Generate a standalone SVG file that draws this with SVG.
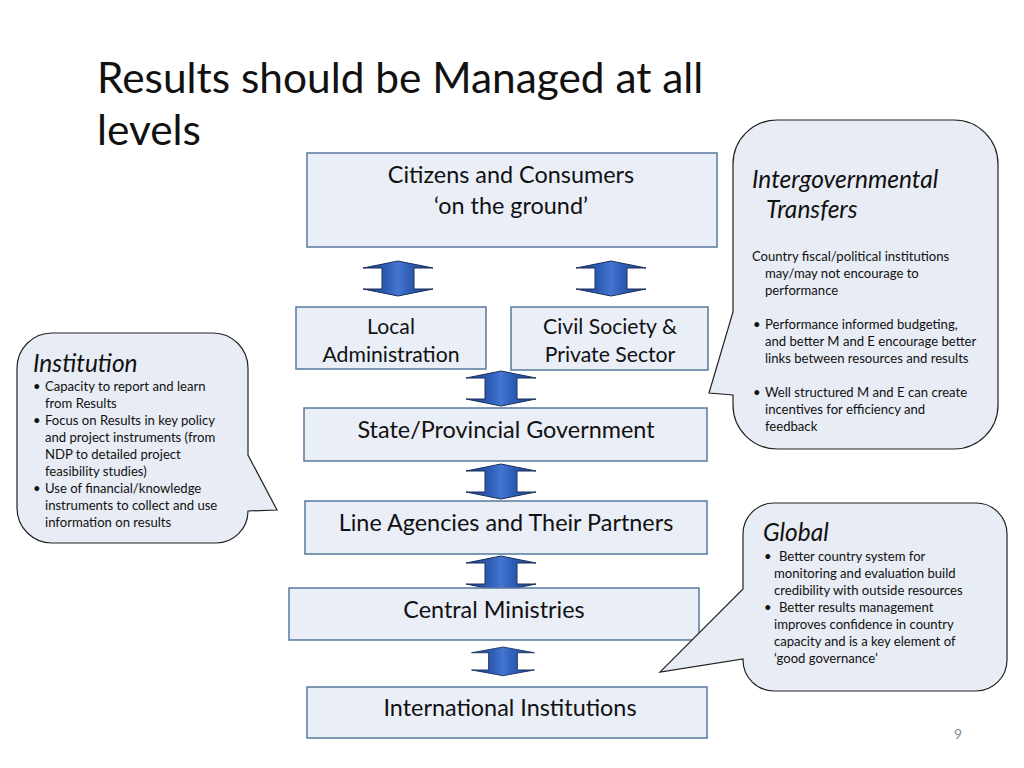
<svg xmlns="http://www.w3.org/2000/svg" xmlns:xlink="http://www.w3.org/1999/xlink" width="1024" height="768" viewBox="0 0 1024 768">
<style>
  .box{fill:#e9eef7;stroke:#58779f;stroke-width:1.5}
  .bubble{fill:#e8ecf4;stroke:#222;stroke-width:1.2}
  .t{font-family:Lato,"Liberation Sans",sans-serif;fill:#111}
  .bt{font-size:23.4px;text-anchor:middle}
  .bs{font-size:21.2px;text-anchor:middle}
  .hd{font-size:24.5px;font-style:italic}
  .bd{font-size:13.1px}
  .arrow{fill:url(#ag);stroke:#1b2f5c;stroke-width:1}
</style>
<defs>
  <linearGradient id="ag" x1="0" y1="0" x2="1" y2="0">
    <stop offset="0" stop-color="#1c3f86"/>
    <stop offset="0.35" stop-color="#2f5fb8"/>
    <stop offset="0.5" stop-color="#4376d2"/>
    <stop offset="0.65" stop-color="#2f5fb8"/>
    <stop offset="1" stop-color="#1c3f86"/>
  </linearGradient>
  <path id="dbl" d="M0,0 L35,7 L16,7 L16,28 L35,28 L0,35 L-35,28 L-16,28 L-16,7 L-35,7 Z"/>
</defs>
<rect width="1024" height="768" fill="#fff"/>

<g id="title" class="t" font-size="42.4">
  <text x="97" y="93">Results should be Managed at all</text>
  <text x="97" y="145">levels</text>
</g>

<g id="connectors">
  <use xlink:href="#dbl" class="arrow" transform="translate(398,261)"/>
  <use xlink:href="#dbl" class="arrow" transform="translate(611,261)"/>
  <use xlink:href="#dbl" class="arrow" transform="translate(501,371)"/>
  <use xlink:href="#dbl" class="arrow" transform="translate(501,464)"/>
  <use xlink:href="#dbl" class="arrow" transform="translate(501,556)"/>
  <use xlink:href="#dbl" class="arrow" transform="translate(503,647) scale(0.9,0.82)"/>
</g>

<g id="citizens">
  <rect class="box" x="307" y="153" width="410" height="94"/>
  <text class="t bt" x="511" y="183">Citizens and Consumers</text>
  <text class="t bt" x="511" y="214">‘on the ground’</text>
</g>
<g id="local">
  <rect class="box" x="296" y="307" width="190" height="62"/>
  <text class="t bs" x="391" y="334">Local</text>
  <text class="t bs" x="391" y="362">Administration</text>
</g>
<g id="civil">
  <rect class="box" x="511" y="307" width="197" height="63"/>
  <text class="t bs" x="610" y="334">Civil Society &amp;</text>
  <text class="t bs" x="610" y="362">Private Sector</text>
</g>
<g id="state">
  <rect class="box" x="304" y="408" width="403" height="53"/>
  <text class="t bt" x="506" y="438">State/Provincial Government</text>
</g>
<g id="line">
  <rect class="box" x="305" y="501" width="402" height="53"/>
  <text class="t bt" x="506" y="531">Line Agencies and Their Partners</text>
</g>
<g id="central">
  <rect class="box" x="289" y="588" width="410" height="52"/>
  <text class="t bt" x="494" y="618">Central Ministries</text>
</g>
<g id="international">
  <rect class="box" x="307" y="687" width="400" height="51"/>
  <text class="t bt" x="510" y="716">International Institutions</text>
</g>

<g id="intergov">
  <path class="bubble" d="M777,120 H954 A44,44 0 0 1 998,164 V405 A44,44 0 0 1 954,449 H777 A44,44 0 0 1 733,405 V395 L709,393 L733,312 V164 A44,44 0 0 1 777,120 Z"/>
  <text class="t hd" x="752" y="188">Intergovernmental</text>
  <text class="t hd" x="766" y="218">Transfers</text>
  <g class="t bd">
    <text x="752" y="261">Country fiscal/political institutions</text>
    <text x="765" y="278">may/may not encourage to</text>
    <text x="765" y="295">performance</text>
    <text x="753" y="329">•</text>
    <text x="765" y="329">Performance informed budgeting,</text>
    <text x="765" y="346">and better M and E encourage better</text>
    <text x="765" y="363">links between resources and results</text>
    <text x="753" y="397">•</text>
    <text x="765" y="397">Well structured M and E can create</text>
    <text x="765" y="414">incentives for efficiency and</text>
    <text x="765" y="431">feedback</text>
  </g>
</g>

<g id="institution">
  <path class="bubble" d="M52,333 H213 A35,35 0 0 1 248,368 V455 L277,510 L248,511 A32,32 0 0 1 216,543 H52 A35,35 0 0 1 17,508 V368 A35,35 0 0 1 52,333 Z"/>
  <text class="t hd" x="33" y="372">Institution</text>
  <g class="t bd">
    <text x="33" y="391">•</text>
    <text x="45" y="391">Capacity to report and learn</text>
    <text x="45" y="408">from Results</text>
    <text x="33" y="425">•</text>
    <text x="45" y="425">Focus on Results in key policy</text>
    <text x="45" y="442">and project instruments (from</text>
    <text x="45" y="459">NDP to detailed project</text>
    <text x="45" y="476">feasibility studies)</text>
    <text x="33" y="493">•</text>
    <text x="45" y="493">Use of financial/knowledge</text>
    <text x="45" y="510">instruments to collect and use</text>
    <text x="45" y="527">information on results</text>
  </g>
</g>

<g id="global">
  <path class="bubble" d="M774,503 H976 A31,31 0 0 1 1007,534 V660 A31,31 0 0 1 976,691 H774 A31,31 0 0 1 743,660 V659 L660,672 L743,589 V534 A31,31 0 0 1 774,503 Z"/>
  <text class="t hd" x="763" y="541">Global</text>
  <g class="t bd">
    <text x="764" y="561">•</text>
    <text x="779" y="561">Better country system for</text>
    <text x="774" y="578">monitoring and evaluation build</text>
    <text x="774" y="595">credibility with outside resources</text>
    <text x="764" y="612">•</text>
    <text x="779" y="612">Better results management</text>
    <text x="774" y="629">improves confidence in country</text>
    <text x="774" y="646">capacity and is a key element of</text>
    <text x="774" y="663">‘good governance’</text>
  </g>
</g>

<text id="page" class="t" x="958" y="739" font-size="14" style="fill:#8c8c8c" text-anchor="middle">9</text>
</svg>
